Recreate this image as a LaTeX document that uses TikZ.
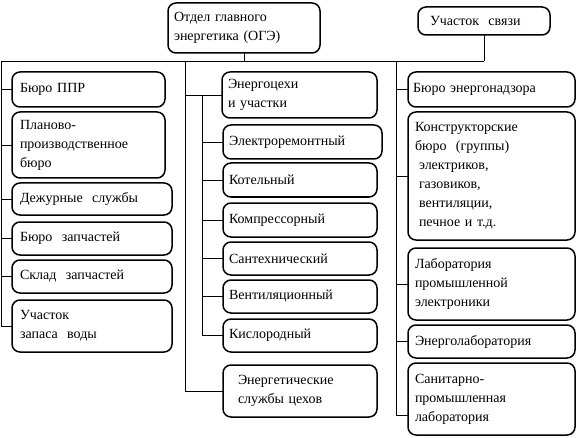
\documentclass[tikz,border=0pt]{standalone}
\usepackage{fontspec}
\setmainfont{Liberation Serif}
\tikzset{
  box/.style={draw, line width=1.5pt, rounded corners=8pt, anchor=north west,
    align=left, inner ysep=0pt, outer sep=0pt, font=\fontsize{14}{19}\selectfont},
  conn/.style={line width=0.8pt},
}
% #1 inset, #2 name, #3 x1, #4 y1, #5 x2, #6 y2, #7 text
\newcommand\obox[7][6]{%
  \pgfmathsetmacro\bw{#5-#3}%
  \pgfmathsetmacro\bh{#6-#4}%
  \pgfmathsetmacro\tw{#5-#3-2*#1}%
  \node[box, inner xsep=#1pt, minimum width=\bw pt, minimum height=\bh pt,
        text width=\tw pt] (#2) at (#3,#4) {#7};%
}
\begin{document}
\begin{tikzpicture}[x=1pt,y=-1pt]
\useasboundingbox (0,0) rectangle (577,438);
% top
\obox{ogz}{168}{3}{320}{53}{Отдел главного\\энергетика (ОГЭ)}
\obox[12]{svz}{418}{7}{550}{35}{Участок~ связи}
% left column
\obox[8]{b1}{12}{72}{165}{107}{Бюро ППР}
\obox[8]{b2}{12}{112}{165}{178}{Планово-\\производственное\\бюро}
\obox[8]{b3}{12}{183}{172}{215}{Дежурные~ службы}
\obox[8]{b4}{12}{222}{172}{255}{Бюро~ запчастей}
\obox[8]{b5}{12}{260}{172}{293}{Склад~ запчастей}
\obox[8]{b6}{12}{300}{172}{352}{Участок\\запаса~ воды}
% middle column
\obox{e0}{222}{72}{377}{118}{Энергоцехи\\и участки}
\obox{e1}{223}{125}{382}{159}{Электроремонтный}
\obox{e2}{223}{163}{377}{197}{Котельный}
\obox{e3}{223}{203}{377}{237}{Компрессорный}
\obox{e4}{223}{242}{377}{275}{Сантехнический}
\obox{e5}{223}{280}{377}{313}{Вентиляционный}
\obox{e6}{223}{319}{377}{352}{Кислородный}
\obox[15]{ms}{223}{365}{377}{417}{Энергетические\\службы цехов}
% right column
\obox[5]{r1}{408}{72}{575}{107}{Бюро энергонадзора}
\obox[7]{r2}{408}{112}{575}{240}{Конструкторские\\бюро~ (группы)\\\hspace*{4pt}электриков,\\\hspace*{4pt}газовиков,\\\hspace*{4pt}вентиляции,\\\hspace*{4pt}печное и т.д.}
\obox[7]{r3}{408}{248}{575}{320}{Лаборатория\\промышленной\\электроники}
\obox[7]{r4}{408}{325}{575}{358}{Энерголаборатория}
\obox[7]{r5}{408}{363}{575}{435}{Санитарно-\\промышленная\\лаборатория}
% connectors
\coordinate (L) at (1,61);
\coordinate (M) at (185,61);
\coordinate (I) at (202,61);
\coordinate (R) at (396,61);
\draw[conn] (ogz.south) -- (ogz.south |- L);
\draw[conn] (svz.south) -- (svz.south |- L);
\draw[conn] (L) -- (svz.south |- L);
% left
\draw[conn] (L) |- (b6.west);
\foreach \n in {b1,b2,b3,b4,b5} \draw[conn] (\n.west) -- (\n.west -| L);
% middle
\draw[conn] (M) |- (ms.west);
\draw[conn] (e0.west) -- (e0.west -| M);
\draw[conn] (e0.west -| I) |- (e6.west);
\foreach \n in {e1,e2,e3,e4,e5} \draw[conn] (\n.west) -- (\n.west -| I);
% right
\coordinate (st) at ([yshift=20pt]r5.south west);
\draw[conn] (R) |- (st);
\foreach \n in {r1,r2,r3,r4} \draw[conn] (\n.west) -- (\n.west -| R);
\end{tikzpicture}
\end{document}
